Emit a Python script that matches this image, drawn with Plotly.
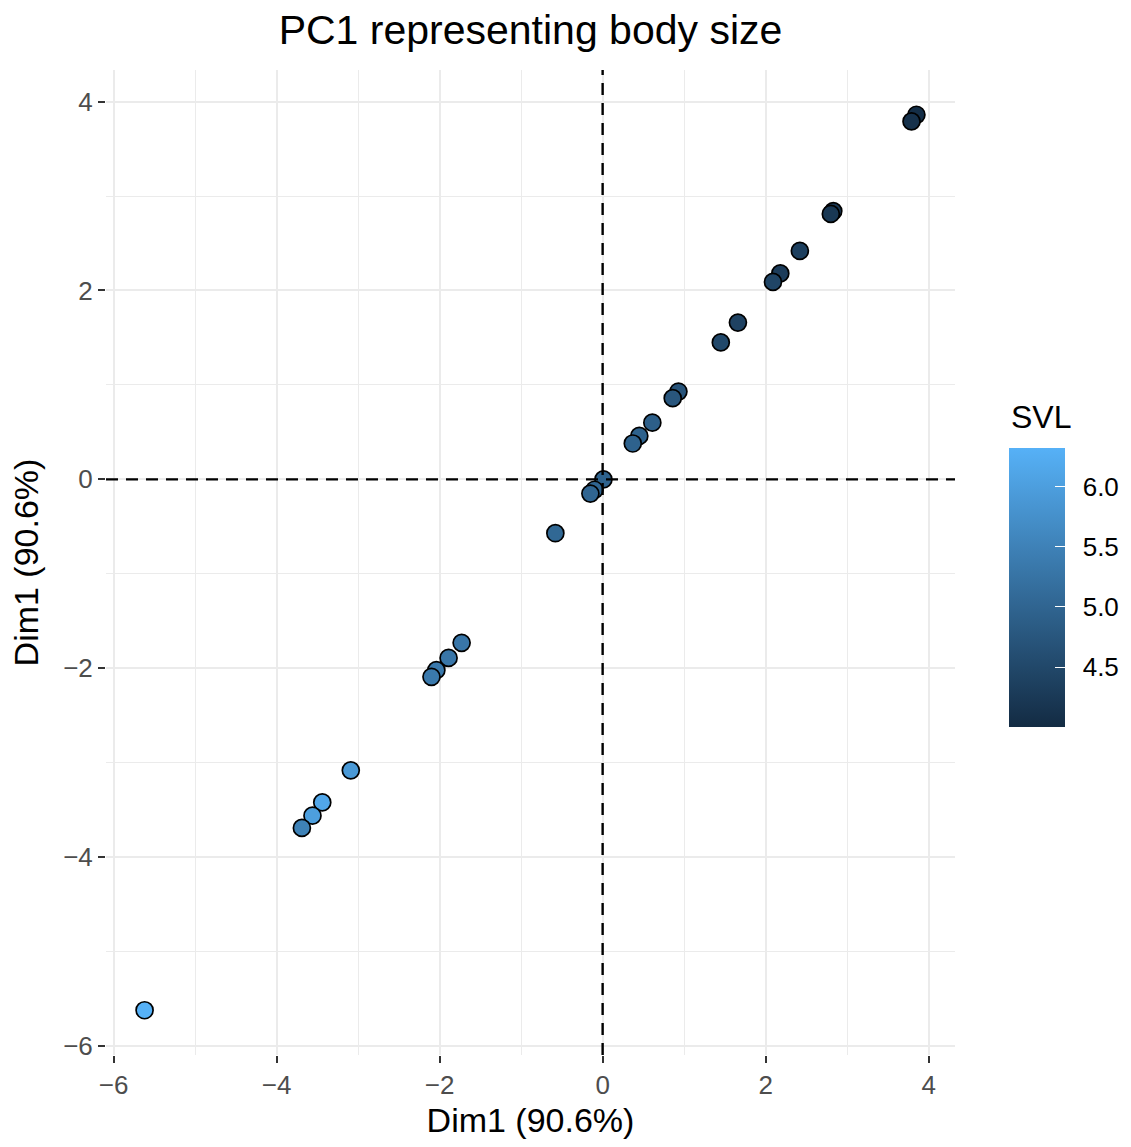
import plotly.graph_objects as go

dim1_x = [3.85, 3.79, 2.83, 2.80, 2.42, 2.18, 2.09, 1.66, 1.45, 0.93, 0.86, 0.61, 0.45, 0.37,
          0.01, -0.10, -0.15, -0.58, -1.73, -1.89, -2.04, -2.10, -3.09, -3.44, -3.56, -3.69, -5.62]
dim1_y = [3.86, 3.79, 2.84, 2.81, 2.42, 2.18, 2.09, 1.66, 1.45, 0.93, 0.86, 0.60, 0.46, 0.38,
          0.00, -0.11, -0.15, -0.57, -1.73, -1.89, -2.02, -2.09, -3.08, -3.42, -3.56, -3.69, -5.62]
svl = [4.05, 4.10, 4.20, 4.22, 4.35, 4.30, 4.45, 4.40, 4.50, 4.70, 4.75, 4.90, 4.95, 4.95,
       4.95, 5.00, 5.00, 5.05, 5.30, 5.30, 5.35, 5.35, 5.90, 6.15, 6.00, 5.50, 6.32]

svl_ticks = [4.5, 5.0, 5.5, 6.0]
svl_ticklabels = ["4.5", "5.0", "5.5", "6.0"]
x_ticks = [-6, -4, -2, 0, 2, 4]
y_ticks = [-6, -4, -2, 0, 2, 4]
tick_text = ["\u22126", "\u22124", "\u22122", "0", "2", "4"]

FONT = "Liberation Sans, Arial, sans-serif"
SCALE = [[0, "#132B43"], [1, "#56B1F7"]]


def expand(vals, frac=0.05):
    lo, hi = min(vals), max(vals)
    pad = (hi - lo) * frac
    return [lo - pad, hi + pad]


cb_common = dict(
    thickness=56, thicknessmode="pixels",
    len=279, lenmode="pixels",
    x=1.0636, xanchor="left", xpad=0,
    y=0.4744, yanchor="middle", ypad=0,
    outlinewidth=0,
    tickvals=svl_ticks,
)

fig = go.Figure()
fig.add_trace(go.Scatter(
    x=dim1_x, y=dim1_y, mode="markers",
    marker=dict(
        size=17, color=svl, cmin=4.0, cmax=6.32, colorscale=SCALE,
        line=dict(color="black", width=1.7),
        colorbar=dict(
            ticktext=svl_ticklabels,
            ticks="outside", ticklen=13, tickcolor="white", tickwidth=1,
            tickfont=dict(size=26, color="black", family=FONT),
            **cb_common,
        ),
    ),
    showlegend=False,
))
# overlay colorbar carrying only the white inside tick marks
fig.add_trace(go.Scatter(
    x=dim1_x, y=dim1_y, mode="markers", hoverinfo="skip",
    marker=dict(
        size=17, color=svl, cmin=4.0, cmax=6.32, colorscale=SCALE, opacity=0,
        colorbar=dict(
            showticklabels=False,
            ticks="inside", ticklen=10, tickcolor="white", tickwidth=1.2,
            **cb_common,
        ),
    ),
    showlegend=False,
))

fig.add_annotation(text="SVL", xref="paper", yref="paper", x=1.0636, y=0.6475,
                   xanchor="left", yanchor="middle", showarrow=False,
                   font=dict(size=32, color="black", family=FONT))

fig.add_shape(type="line", xref="x", yref="paper", x0=0, x1=0, y0=0, y1=1,
              line=dict(color="black", width=2.4, dash="12px,8px"))
fig.add_shape(type="line", xref="paper", yref="y", x0=0, x1=1, y0=0, y1=0,
              line=dict(color="black", width=2.4, dash="12px,8px"))

axis_common = dict(
    showgrid=True, gridcolor="#EBEBEB", gridwidth=2.2,
    zeroline=False, showline=False,
    ticks="outside", ticklen=7, tickwidth=2, tickcolor="#333333",
    tickfont=dict(size=26, color="#4D4D4D", family=FONT),
)

fig.update_layout(
    width=1131, height=1147,
    margin=dict(l=106, r=176, t=70, b=92),
    plot_bgcolor="white", paper_bgcolor="white",
    title=dict(text="PC1 representing body size", xref="paper", x=0.5, xanchor="center",
               y=0.974, yanchor="middle", font=dict(size=41, color="black", family=FONT)),
    xaxis=dict(range=expand(dim1_x), tickvals=x_ticks, ticktext=tick_text,
               title=dict(text="Dim1 (90.6%)", font=dict(size=34, color="black", family=FONT), standoff=8),
               minor=dict(dtick=1, showgrid=True, gridcolor="#EBEBEB", gridwidth=1.1, tick0=-7),
               **axis_common),
    yaxis=dict(range=expand(dim1_y), tickvals=y_ticks, ticktext=tick_text,
               title=dict(text="Dim1 (90.6%)", font=dict(size=34, color="black", family=FONT), standoff=14),
               minor=dict(dtick=1, showgrid=True, gridcolor="#EBEBEB", gridwidth=1.1, tick0=-7),
               **axis_common),
)

fig.write_html("out.html")
